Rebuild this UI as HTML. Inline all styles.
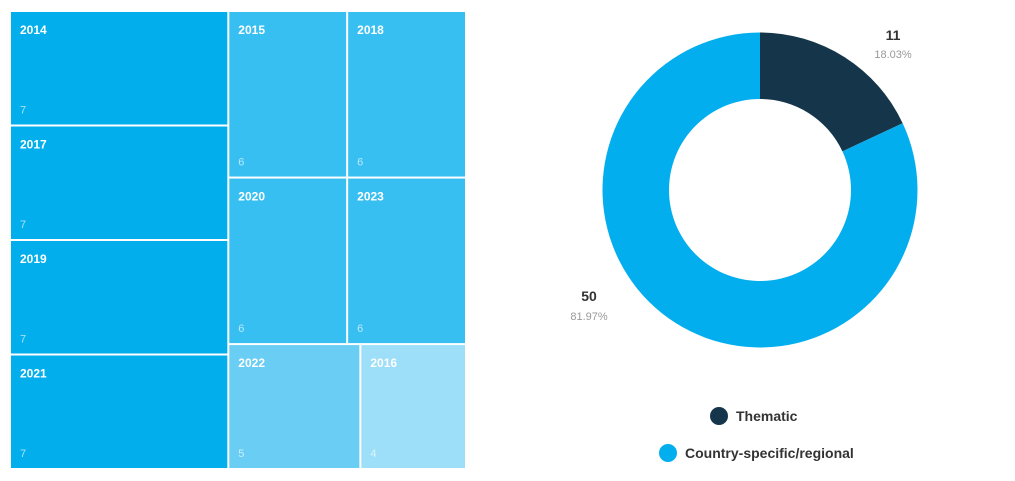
<!DOCTYPE html>
<html><head><meta charset="utf-8"><style>
body{margin:0;background:#fff;width:1015px;height:481px;overflow:hidden;font-family:"Liberation Sans",sans-serif}
svg{position:absolute;left:0;top:0}
</style></head><body>
<svg width="1015" height="481">
<g id="treemap"></g>
<g id="donut"></g>
<g id="legend"></g>
</svg>
<script>
const years=["2014","2017","2019","2021","2015","2018","2020","2023","2022","2016"];
const counts=[7,7,7,7,6,6,6,6,5,4];
const sliceLabels=["Thematic","Country-specific/regional"];
const sliceValues=[11,50];

const NS="http://www.w3.org/2000/svg";
function mk(tag,attrs,parent){const e=document.createElementNS(NS,tag);for(const k in attrs)e.setAttribute(k,attrs[k]);parent.appendChild(e);return e;}
const colorFor=v=>({7:"#03aeec",6:"#38bff2",5:"#69cdf4",4:"#9ddff8"})[v]||"#9ddff8";

// Treemap
const tm=document.getElementById('treemap');
const X0=10,Y0=11,W=456,H=458,G=2;
const total=counts.reduce((a,b)=>a+b,0);
const rects=[];
const col=[0,1,2,3];
const colSum=col.reduce((a,i)=>a+counts[i],0);
const colW=W*colSum/total+9;
let y=Y0;
col.forEach(i=>{const h=H*counts[i]/colSum;rects.push([i,X0,y,colW,h]);y+=h;});
const rows=[[4,5],[6,7],[8,9]];
const restSum=total-colSum;
let ry=Y0;const rx=X0+colW,rw=W-colW;
rows.forEach(r=>{const s=r.reduce((a,i)=>a+counts[i],0);const h=H*s/restSum;let x=rx;r.forEach(i=>{const w=rw*counts[i]/s;rects.push([i,x,ry,w,h]);x+=w;});ry+=h;});
rects.forEach(([i,x,y,w,h])=>{
  const g=mk('g',{},tm);
  
  
  mk('rect',{x:x+G/2,y:y+G/2,width:w-G,height:h-G,fill:colorFor(counts[i])},g);
  const t=mk('text',{x:x+10,y:y+23,fill:'#fff','font-size':12,'font-weight':'bold','font-family':'"Liberation Sans Narrow","Liberation Sans",sans-serif'},g);
  t.textContent=years[i];
  
  
  const v=mk('text',{x:x+10,y:y+h-12,fill:'rgba(255,255,255,0.65)','font-size':11,'font-family':'"Liberation Sans Narrow","Liberation Sans",sans-serif'},g);
  v.textContent=counts[i];
  
  
});

// Donut
const dn=document.getElementById('donut');
const cx=760,cy=190,R=157.5,r=91;
const colors=["#15364a","#03aeef"];
const sum=sliceValues.reduce((a,b)=>a+b,0);
let a0=-Math.PI/2;
const labelPos=[[893,40,893,58],[589,301,589,320]];
sliceValues.forEach((v,i)=>{
  const a1=a0+2*Math.PI*v/sum;const large=(a1-a0)>Math.PI?1:0;
  const p=(ang,rad)=>[cx+rad*Math.cos(ang),cy+rad*Math.sin(ang)];
  const [x1,y1]=p(a0,R),[x2,y2]=p(a1,R),[x3,y3]=p(a1,r),[x4,y4]=p(a0,r);
  const path=mk('path',{d:`M${x1},${y1}A${R},${R} 0 ${large} 1 ${x2},${y2}L${x3},${y3}A${r},${r} 0 ${large} 0 ${x4},${y4}Z`,fill:colors[i]},dn);
  
  
  const lp=labelPos[i];
  const t1=mk('text',{x:lp[0],y:lp[1],'text-anchor':'middle','font-size':14,'font-weight':'bold',fill:'#333'},dn);
  t1.textContent=v;
  
  
  const t2=mk('text',{x:lp[2],y:lp[3],'text-anchor':'middle','font-size':11,fill:'#999'},dn);
  t2.textContent=(100*v/sum).toFixed(2)+'%';
  
  
  a0=a1;
});

// Legend
const lg=document.getElementById('legend');
const legPos=[[719,416],[668,453]];
sliceLabels.forEach((l,i)=>{
  const g=mk('g',{},lg);
  
  
  mk('circle',{cx:legPos[i][0],cy:legPos[i][1],r:9,fill:colors[i]},g);
  const t=mk('text',{x:legPos[i][0]+17,y:legPos[i][1]+5,'font-size':14,'font-weight':'bold',fill:'#333'},g);
  t.textContent=l;
});
</script>
</body></html>
